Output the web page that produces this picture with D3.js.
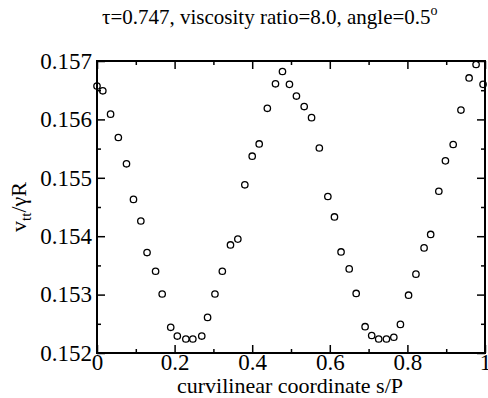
<!DOCTYPE html>
<html>
<head>
<meta charset="utf-8">
<script src="https://cdn.jsdelivr.net/npm/d3@7"></script>
<style>
  body { margin: 0; background: #fff; }
</style>
</head>
<body>
<div id="chart"></div>
<script>
// data
const sValues = [0.000, 0.015, 0.035, 0.055, 0.076, 0.094, 0.113, 0.129, 0.151, 0.168,
  0.190, 0.207, 0.229, 0.247, 0.270, 0.285, 0.304, 0.323, 0.344, 0.363,
  0.381, 0.400, 0.418, 0.439, 0.460, 0.478, 0.496, 0.514, 0.534, 0.553,
  0.573, 0.595, 0.612, 0.629, 0.650, 0.668, 0.691, 0.708, 0.726, 0.746,
  0.765, 0.782, 0.803, 0.822, 0.843, 0.860, 0.881, 0.898, 0.918, 0.938,
  0.959, 0.977, 0.995];
const vValues = [0.15657, 0.15649, 0.15609, 0.15569, 0.15524, 0.15463, 0.15426, 0.15372, 0.15340, 0.15301,
  0.15244, 0.15229, 0.15224, 0.15224, 0.15229, 0.15261, 0.15301, 0.15340, 0.15385, 0.15395,
  0.15488, 0.15537, 0.15558, 0.15619, 0.15661, 0.15682, 0.15660, 0.15640, 0.15622, 0.15603,
  0.15551, 0.15468, 0.15433, 0.15373, 0.15344, 0.15302, 0.15245, 0.15230, 0.15224, 0.15224,
  0.15227, 0.15249, 0.15299, 0.15335, 0.15380, 0.15403, 0.15477, 0.15529, 0.15557, 0.15616,
  0.15671, 0.15694, 0.15660];

const xTicks = [0, 0.2, 0.4, 0.6, 0.8, 1];
const xTickLabels = ["0", "0.2", "0.4", "0.6", "0.8", "1"];
const xMinorTicks = [0.1, 0.3, 0.5, 0.7, 0.9];
const yTicks = [0.152, 0.153, 0.154, 0.155, 0.156, 0.157];
const yMinorTicks = [0.1525, 0.1535, 0.1545, 0.1555, 0.1565];

const width = 488, height = 398;
const margin = { top: 61, right: 3, bottom: 45, left: 97 };
const serif = "Liberation Serif";

const svg = d3.select("#chart").append("svg")
  .attr("width", width)
  .attr("height", height);

const x = d3.scaleLinear().domain([0, 1]).range([margin.left, width - margin.right]);
const y = d3.scaleLinear().domain([0.152, 0.157]).range([height - margin.bottom, margin.top]);

const majorLen = 8, minorLen = 4;

// axes with inward ticks
const xAxis = svg.append("g")
  .attr("transform", `translate(0,${height - margin.bottom})`)
  .call(d3.axisBottom(x).tickValues(xTicks).tickSize(-majorLen).tickPadding(1)
    .tickFormat((d, i) => xTickLabels[i]));
svg.append("g")
  .attr("transform", `translate(0,${height - margin.bottom})`)
  .call(d3.axisBottom(x).tickValues(xMinorTicks).tickSize(-minorLen).tickFormat(""));
svg.append("g")
  .attr("transform", `translate(0,${margin.top})`)
  .call(d3.axisTop(x).tickValues(xTicks).tickSize(-majorLen).tickFormat(""));
svg.append("g")
  .attr("transform", `translate(0,${margin.top})`)
  .call(d3.axisTop(x).tickValues(xMinorTicks).tickSize(-minorLen).tickFormat(""));

const yAxis = svg.append("g")
  .attr("transform", `translate(${margin.left},0)`)
  .call(d3.axisLeft(y).tickValues(yTicks).tickSize(-majorLen).tickPadding(5)
    .tickFormat(d3.format(".3f")));
svg.append("g")
  .attr("transform", `translate(${margin.left},0)`)
  .call(d3.axisLeft(y).tickValues(yMinorTicks).tickSize(-minorLen).tickFormat(""));
svg.append("g")
  .attr("transform", `translate(${width - margin.right},0)`)
  .call(d3.axisRight(y).tickValues(yTicks).tickSize(-majorLen).tickFormat(""));
svg.append("g")
  .attr("transform", `translate(${width - margin.right},0)`)
  .call(d3.axisRight(y).tickValues(yMinorTicks).tickSize(-minorLen).tickFormat(""));

svg.selectAll(".domain").remove();
svg.selectAll(".tick line").attr("stroke", "#000").attr("stroke-width", 1.5);
svg.selectAll(".tick text")
  .style("font-family", serif)
  .style("font-size", "23px")
  .style("fill", "#000");

// frame
svg.append("rect")
  .attr("x", margin.left)
  .attr("y", margin.top)
  .attr("width", width - margin.right - margin.left)
  .attr("height", height - margin.bottom - margin.top)
  .attr("fill", "none")
  .attr("stroke", "#000")
  .attr("stroke-width", 2);

// points
svg.append("g")
  .selectAll("circle")
  .data(sValues.map((s, i) => [s, vValues[i]]))
  .join("circle")
  .attr("cx", d => x(d[0]))
  .attr("cy", d => y(d[1]))
  .attr("r", 3.2)
  .attr("fill", "none")
  .attr("stroke", "#000")
  .attr("stroke-width", 1.3);

// title
const title = svg.append("text")
  .attr("x", 102)
  .attr("y", 24)
  .style("font-family", serif)
  .style("font-size", "21px");
title.append("tspan").text("τ=0.747, viscosity ratio=8.0, angle=0.5");
title.append("tspan").attr("dy", -9).style("font-size", "14px").text("o");

// x label
svg.append("text")
  .attr("x", 290)
  .attr("y", 393)
  .attr("text-anchor", "middle")
  .style("font-family", serif)
  .style("font-size", "22px")
  .text("curvilinear coordinate s/P");

// y label
const ylab = svg.append("text")
  .attr("transform", `translate(26,${(margin.top + height - margin.bottom) / 2}) rotate(-90)`)
  .attr("text-anchor", "middle")
  .style("font-family", serif)
  .style("font-size", "22px");
ylab.append("tspan").text("v");
ylab.append("tspan").attr("dy", 5).style("font-size", "15px").text("tt");
ylab.append("tspan").attr("dy", -5).text("/γR");
</script>
</body>
</html>
